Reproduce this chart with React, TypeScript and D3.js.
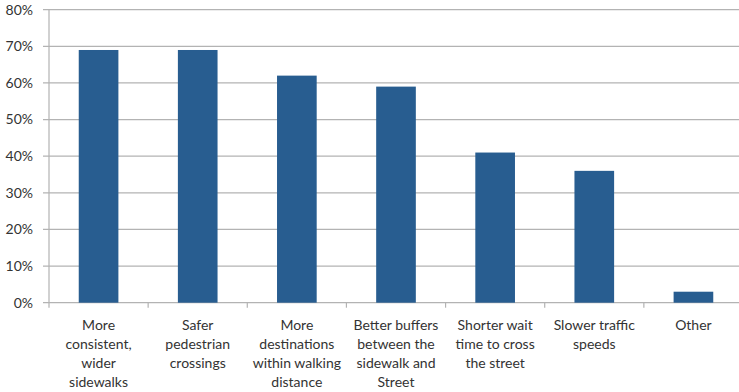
import React from "react";
import * as d3 from "d3";

const categories: string[][] = [
  ["More", "consistent,", "wider", "sidewalks"],
  ["Safer", "pedestrian", "crossings"],
  ["More", "destinations", "within walking", "distance"],
  ["Better buffers", "between the", "sidewalk and", "Street"],
  ["Shorter wait", "time to cross", "the street"],
  ["Slower traffic", "speeds"],
  ["Other"],
];
const values = [69, 69, 62, 59, 41, 36, 3];
const yTicks = [0, 10, 20, 30, 40, 50, 60, 70, 80];

const W = 739;
const H = 392;
const left = 49;
const right = 743;
const top = 9.7;
const bottom = 302.7;

export default function App() {
  const ids = categories.map((_, i) => String(i));
  const x = d3.scaleBand<string>().domain(ids).range([left, right]).paddingInner(0.6).paddingOuter(0.3);
  const y = d3.scaleLinear().domain([0, 80]).range([bottom, top]);
  const step = x.step();
  const font = "Lato, 'Open Sans', sans-serif";

  return (
    <svg width={W} height={H} style={{ position: "absolute", left: 0, top: 0 }}>
      <rect width={W} height={H} fill="#fff" />
      {yTicks.map((t) => (
        <g key={t}>
          <line x1={left - 6} x2={right} y1={y(t)} y2={y(t)} stroke="#b3b3b3" strokeWidth={1.2} />
          <text x={33} y={y(t)} dy="0.35em" textAnchor="end" fontFamily={font} fontSize={14} fill="#333">
            {t}%
          </text>
        </g>
      ))}
      <line x1={left} x2={left} y1={top} y2={bottom} stroke="#b3b3b3" strokeWidth={1.2} />
      {d3.range(categories.length + 1).map((i) => (
        <line key={i} x1={left + i * step} x2={left + i * step} y1={bottom} y2={bottom + 5} stroke="#b3b3b3" strokeWidth={1.2} />
      ))}
      {values.map((v, i) => (
        <rect key={i} x={x(String(i))} y={y(v)} width={x.bandwidth()} height={bottom - y(v)} fill="#285d90" />
      ))}
      {categories.map((lines, i) => (
        <text key={i} fontFamily={font} fontSize={14} fill="#333" textAnchor="middle">
          {lines.map((l, j) => (
            <tspan key={j} x={(x(String(i)) as number) + x.bandwidth() / 2} y={330 + j * 19}>
              {l}
            </tspan>
          ))}
        </text>
      ))}
    </svg>
  );
}
